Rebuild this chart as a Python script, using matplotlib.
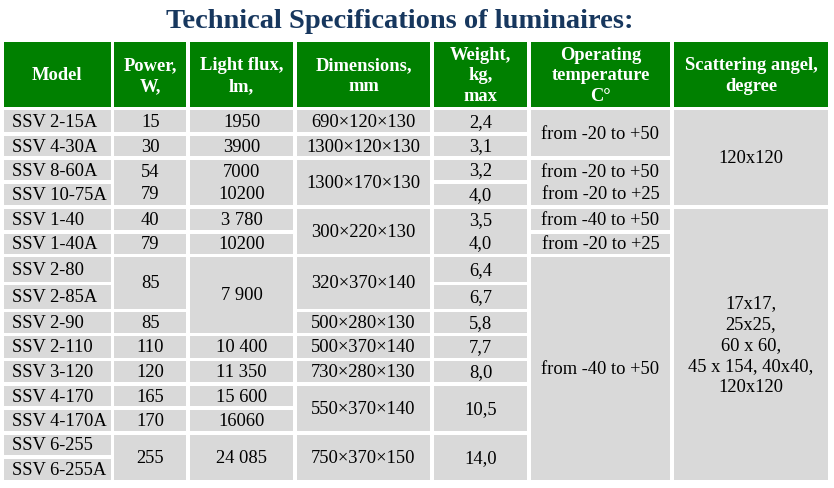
import matplotlib.pyplot as plt
from matplotlib.patches import Rectangle

title = "Technical Specifications of luminaires:"
headers = ["Model", "Power,\nW,", "Light flux,\nlm,", "Dimensions,\nmm",
           "Weight,\nkg,\nmax", "Operating\ntemperature\nC°", "Scattering angel,\ndegree"]

models = ["SSV 2-15A", "SSV 4-30A", "SSV 8-60A", "SSV 10-75A", "SSV 1-40", "SSV 1-40A",
          "SSV 2-80", "SSV 2-85A", "SSV 2-90", "SSV 2-110", "SSV 3-120", "SSV 4-170",
          "SSV 4-170A", "SSV 6-255", "SSV 6-255A"]
# (text, number of rows the cell covers)
power = [("15", 1), ("30", 1), ("54\n79", 2), ("40", 1), ("79", 1), ("85", 2), ("85", 1),
         ("110", 1), ("120", 1), ("165", 1), ("170", 1), ("255", 2)]
flux = [("1950", 1), ("3900", 1), ("7000\n10200", 2), ("3 780", 1), ("10200", 1),
        ("7 900", 3), ("10 400", 1), ("11 350", 1), ("15 600", 1), ("16060", 1), ("24 085", 2)]
dimensions = [("690×120×130", 1), ("1300×120×130", 1), ("1300×170×130", 2),
              ("300×220×130", 2), ("320×370×140", 2), ("500×280×130", 1),
              ("500×370×140", 1), ("730×280×130", 1), ("550×370×140", 2), ("750×370×150", 2)]
weight = [("2,4", 1), ("3,1", 1), ("3,2", 1), ("4,0", 1), ("3,5\n4,0", 2), ("6,4", 1),
          ("6,7", 1), ("5,8", 1), ("7,7", 1), ("8,0", 1), ("10,5", 2), ("14,0", 2)]
temperature = [("from -20 to +50", 2), ("from -20 to +50\nfrom -20 to +25", 2),
               ("from -40 to +50", 1), ("from -20 to +25", 1), ("from -40 to +50", 9)]
scattering = [("120x120", 4), ("17x17,\n25x25,\n60 x 60,\n45 x 154, 40x40,\n120x120", 11)]

GREEN = "#008000"
GRAY = "#D9D9D9"
NAVY = "#17375E"
SERIF = "Liberation Serif"

col_edges = [2, 112.5, 188, 295, 432, 529, 672, 830]
row_edges = [108.5, 134, 158, 182, 207, 232, 255.5, 283.5, 310.5, 334.5, 359.5, 384,
             408, 433, 457, 481.5]
head_top, head_bot = 41.5, 108.5
gap = 1.6

fig = plt.figure(figsize=(8.34, 4.88), dpi=100)
ax = fig.add_axes([0, 0, 1, 1])
ax.set_xlim(0, 834)
ax.set_ylim(488, 0)
ax.axis("off")

ax.text(400, 22, title, ha="center", va="center", family=SERIF, fontweight="bold",
        fontsize=20.5, color=NAVY)


def cell(c, r0, r1, text, left=False, ls=1.3):
    x0, x1 = col_edges[c] + gap, col_edges[c + 1] - gap
    y0, y1 = row_edges[r0] + gap, row_edges[r1] - gap
    ax.add_patch(Rectangle((x0, y0), x1 - x0, y1 - y0, facecolor=GRAY, edgecolor="none"))
    tx = x0 + 8 if left else (x0 + x1) / 2
    ax.text(tx, (y0 + y1) / 2 + 1, text, ha="left" if left else "center", va="center",
            family=SERIF, fontsize=13.3, color="black", linespacing=ls,
            multialignment="center")


for c, h in enumerate(headers):
    x0, x1 = col_edges[c] + gap, col_edges[c + 1] - gap
    ax.add_patch(Rectangle((x0, head_top), x1 - x0, head_bot - gap - head_top,
                           facecolor=GREEN, edgecolor="none"))
    ax.text((x0 + x1) / 2, (head_top + head_bot) / 2 + 1, h, ha="center", va="center",
            family=SERIF, fontweight="bold", fontsize=13.3, color="white",
            linespacing=1.3)

for i, m in enumerate(models):
    cell(0, i, i + 1, m, left=True)

for c, col in enumerate([power, flux, dimensions, weight, temperature, scattering], start=1):
    r = 0
    for text, n in col:
        cell(c, r, r + n, text, ls=1.3 if c == 6 else 1.45)
        r += n

fig.savefig("out.png", dpi=100, facecolor="white")
